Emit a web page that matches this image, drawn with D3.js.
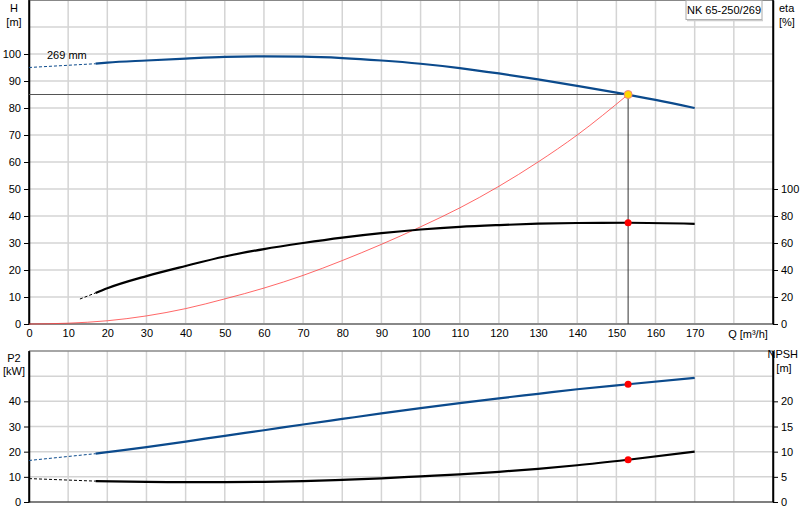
<!DOCTYPE html>
<html><head><meta charset="utf-8">
<script src="https://cdn.jsdelivr.net/npm/d3@7"></script>
<style>body{margin:0;background:#fff}text{font-family:Arial,"Liberation Sans",sans-serif;font-size:11px;fill:#000}</style>
</head><body><svg id="chart" width="800" height="520"></svg>
<script>
// Data
const headDashed = [[0, 95], [17, 96.4]];
const headCurve = [[17, 96.4], [20, 96.8], [30, 97.6], [40, 98.3], [50, 98.9], [60, 99.1], [70, 99.0], [80, 98.5], [90, 97.6], [100, 96.4], [110, 94.8], [120, 92.8], [130, 90.6], [140, 88.2], [150, 85.7], [160, 83.0], [170, 80.0]];
const etaDashed = [[13, 18.5], [17, 23]];
const etaCurve = [[17, 23], [20, 26.5], [30, 35.5], [40, 43], [50, 50], [60, 55.5], [70, 60], [80, 64], [90, 67.3], [100, 70], [110, 72], [120, 73.3], [130, 74.3], [140, 74.8], [153, 75], [170, 74.2]];
const systemCurve = [[0, 0], [10, 0.3], [20, 1.2], [30, 3], [40, 5.7], [50, 9.3], [60, 13.3], [70, 18], [80, 23.5], [90, 29.5], [100, 36], [110, 43], [120, 51], [130, 60], [140, 70], [153, 85]];
const p2Dashed = [[0, 16.5], [17, 19.2]];
const p2Curve = [[17, 19.2], [20, 19.8], [30, 21.8], [40, 24], [50, 26.3], [60, 28.5], [70, 30.8], [80, 33], [90, 35.2], [100, 37.3], [110, 39.3], [120, 41.2], [130, 43], [140, 44.8], [153, 46.8], [170, 49.3]];
const npshDashed = [[0, 4.65], [17, 4.15]];
const npshCurve = [[17, 4.15], [30, 4.0], [40, 3.95], [50, 3.95], [60, 4.0], [70, 4.15], [80, 4.4], [90, 4.7], [100, 5.1], [110, 5.5], [120, 6.0], [130, 6.6], [140, 7.3], [153, 8.4], [170, 10]];
const dutyPoint = {q: 153, h: 85, eta: 75, p2: 46.8, npsh: 8.4};
const qTicks = d3.range(0, 180, 10);
const hTicks = d3.range(0, 110, 10);
const etaTicks = d3.range(0, 120, 20);
const p2Ticks = d3.range(0, 50, 10);
const npshTicks = d3.range(0, 25, 5);
const title = "NK 65-250/269";

const svg = d3.select("#chart");
const L = 29, R = 773;
const x = d3.scaleLinear().domain([0, 190]).range([L, R]);
const yH = d3.scaleLinear().domain([0, 120]).range([324, 0]);
const yEta = d3.scaleLinear().domain([0, 240]).range([324, 0]);
const yP = d3.scaleLinear().domain([0, 60]).range([502, 351]);
const yN = d3.scaleLinear().domain([0, 30]).range([502, 351]);
const line = (xs, ys) => d3.line().x(d => xs(d[0])).y(d => ys(d[1])).curve(d3.curveMonotoneX);

// grids
function grid(yScale, yvals, top, bottom) {
  const g = svg.append("g").attr("stroke", "#d4d4d4").attr("stroke-width", 1.5);
  d3.range(10, 190, 10).forEach(q => g.append("line").attr("x1", x(q)).attr("x2", x(q)).attr("y1", top).attr("y2", bottom));
  yvals.forEach(v => g.append("line").attr("x1", L).attr("x2", R).attr("y1", yScale(v)).attr("y2", yScale(v)));
}
grid(yH, d3.range(10, 120, 10), 0, 324);
grid(yP, d3.range(10, 60, 10), 351, 502);

// frames
svg.append("line").attr("x1", L).attr("x2", R).attr("y1", 0.5).attr("y2", 0.5).attr("stroke", "#888");
svg.append("line").attr("x1", L).attr("x2", R).attr("y1", 351).attr("y2", 351).attr("stroke", "#888").attr("stroke-width", 1.5);
svg.append("line").attr("x1", L).attr("x2", R).attr("y1", 324).attr("y2", 324).attr("stroke", "#888").attr("stroke-width", 2);
svg.append("line").attr("x1", L).attr("x2", R).attr("y1", 502).attr("y2", 502).attr("stroke", "#555").attr("stroke-width", 1.5);

// axes
function axis(gen, tx, ty) {
  const g = svg.append("g").attr("transform", `translate(${tx},${ty})`).call(gen);
  g.select(".domain").attr("stroke", "#000").attr("stroke-width", 1.5);
  g.selectAll("text").style("font-size", "11px");
  return g;
}
axis(d3.axisLeft(yH).tickValues(hTicks).tickSize(5).tickSizeOuter(0), L, 0);
axis(d3.axisRight(yEta).tickValues(etaTicks).tickSize(5).tickSizeOuter(0), R, 0);
axis(d3.axisLeft(yP).tickValues(p2Ticks).tickSize(5).tickSizeOuter(0), L, 0);
axis(d3.axisRight(yN).tickValues(npshTicks).tickSize(5).tickSizeOuter(0), R, 0);
const xa = axis(d3.axisBottom(x).tickValues(qTicks).tickSize(0).tickPadding(5).tickSizeOuter(0), 0, 324);
xa.select(".domain").remove();
svg.append("line").attr("x1", L).attr("x2", L).attr("y1", 0).attr("y2", 324).attr("stroke", "#000").attr("stroke-width", 1.5);
svg.append("line").attr("x1", L).attr("x2", L).attr("y1", 351).attr("y2", 502).attr("stroke", "#000").attr("stroke-width", 1.5);
svg.append("line").attr("x1", R).attr("x2", R).attr("y1", 0).attr("y2", 324).attr("stroke", "#000").attr("stroke-width", 1.5);
svg.append("line").attr("x1", R).attr("x2", R).attr("y1", 351).attr("y2", 502).attr("stroke", "#000").attr("stroke-width", 1.5);

// axis titles
const label = (t, xx, yy, anchor) => svg.append("text").attr("x", xx).attr("y", yy).attr("text-anchor", anchor || "middle").text(t);
label("H", 14, 12); label("[m]", 14, 26);
label("eta", 779, 12, "start"); label("[%]", 779, 26, "start");
label("P2", 14, 362); label("[kW]", 14, 375);
label("NPSH", 798, 358, "end"); label("[m]", 784, 372);
label("Q [m³/h]", 748, 338);
label("269 mm", 47, 59, "start");

// duty lines
svg.append("line").attr("x1", L).attr("x2", x(dutyPoint.q)).attr("y1", yH(dutyPoint.h)).attr("y2", yH(dutyPoint.h)).attr("stroke", "#555");
svg.append("line").attr("x1", x(dutyPoint.q)).attr("x2", x(dutyPoint.q)).attr("y1", yH(dutyPoint.h)).attr("y2", 324).attr("stroke", "#333");

// curves
const blue = "#0b4a8c";
svg.append("path").attr("d", line(x, yH)(systemCurve)).attr("fill", "none").attr("stroke", "#ff4040").attr("stroke-width", 0.8);
svg.append("path").attr("d", line(x, yH)(headDashed)).attr("fill", "none").attr("stroke", blue).attr("stroke-width", 1).attr("stroke-dasharray", "3,2");
svg.append("path").attr("d", line(x, yH)(headCurve)).attr("fill", "none").attr("stroke", blue).attr("stroke-width", 2.2);
svg.append("path").attr("d", line(x, yEta)(etaDashed)).attr("fill", "none").attr("stroke", "#000").attr("stroke-width", 1).attr("stroke-dasharray", "3,2");
svg.append("path").attr("d", line(x, yEta)(etaCurve)).attr("fill", "none").attr("stroke", "#000").attr("stroke-width", 2.2);
svg.append("path").attr("d", line(x, yP)(p2Dashed)).attr("fill", "none").attr("stroke", blue).attr("stroke-width", 1).attr("stroke-dasharray", "3,2");
svg.append("path").attr("d", line(x, yP)(p2Curve)).attr("fill", "none").attr("stroke", blue).attr("stroke-width", 2.2);
svg.append("path").attr("d", line(x, yN)(npshDashed)).attr("fill", "none").attr("stroke", "#000").attr("stroke-width", 1).attr("stroke-dasharray", "3,2");
svg.append("path").attr("d", line(x, yN)(npshCurve)).attr("fill", "none").attr("stroke", "#000").attr("stroke-width", 2.2);

// markers
svg.append("circle").attr("cx", x(dutyPoint.q)).attr("cy", yH(dutyPoint.h)).attr("r", 4).attr("fill", "#ffd700").attr("stroke", "#f08080");
svg.append("circle").attr("cx", x(dutyPoint.q)).attr("cy", yEta(dutyPoint.eta)).attr("r", 3.5).attr("fill", "#f00");
svg.append("circle").attr("cx", x(dutyPoint.q)).attr("cy", yP(dutyPoint.p2)).attr("r", 3.5).attr("fill", "#f00");
svg.append("circle").attr("cx", x(dutyPoint.q)).attr("cy", yN(dutyPoint.npsh)).attr("r", 3.5).attr("fill", "#f00");

// title box
svg.append("rect").attr("x", 686).attr("y", 0.5).attr("width", 76).attr("height", 19).attr("fill", "#fff").attr("stroke", "#aaa");
svg.append("line").attr("x1", 687).attr("x2", 763).attr("y1", 20.5).attr("y2", 20.5).attr("stroke", "#ccc").attr("stroke-width", 1.5);
svg.append("text").attr("x", 724).attr("y", 14).attr("text-anchor", "middle").text(title);
</script></body></html>
